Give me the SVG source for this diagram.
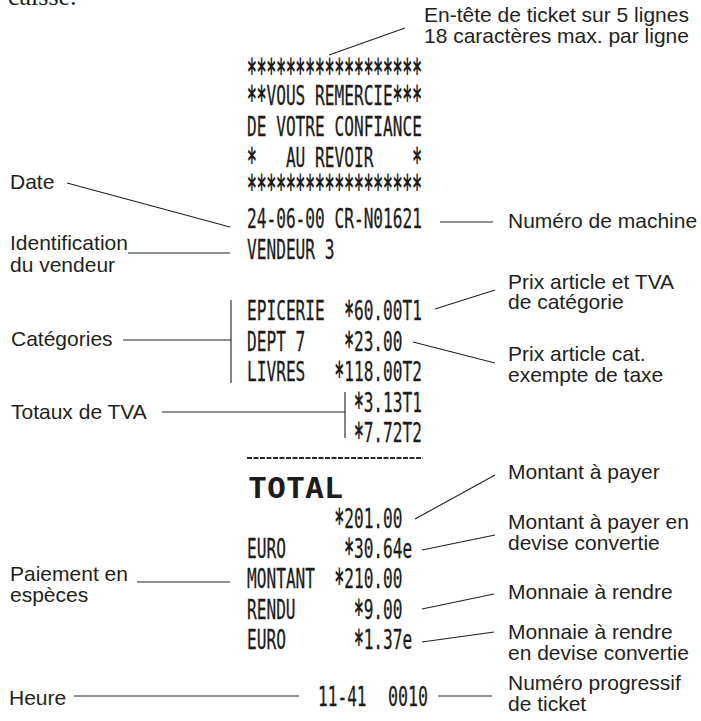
<svg xmlns="http://www.w3.org/2000/svg" width="701" height="721" viewBox="0 0 701 721">
<style>
.lb{font-family:"Liberation Sans",Arial,sans-serif;font-size:21px;fill:#231f20}
.r{font-family:"DejaVu Sans Mono",monospace;font-size:26px;fill:#1c1c1c;stroke:#1c1c1c;stroke-width:0.3}
.s{font-family:"DejaVu Sans Mono",monospace;font-size:38px;font-weight:bold;fill:#1c1c1c}
.b{font-family:"DejaVu Sans Mono",monospace;font-size:28px;font-weight:bold;fill:#1c1c1c}
.ln{stroke:#231f20;stroke-width:1.1;fill:none}
</style>
<rect width="701" height="721" fill="#fff"/>
<text x="8" y="5" style="font-family:'Liberation Serif',serif;font-size:26px;fill:#231f20">caisse.</text>

<g id="receipt">
<text class="s" x="247" y="85" textLength="174.96" lengthAdjust="spacingAndGlyphs">******************</text>
<text class="s" x="247" y="112" textLength="19.44" lengthAdjust="spacingAndGlyphs">**</text>
<text class="r" x="266.44" y="105" textLength="126.36" lengthAdjust="spacingAndGlyphs">VOUS REMERCIE</text>
<text class="s" x="392.8" y="112" textLength="29.16" lengthAdjust="spacingAndGlyphs">***</text>
<text class="r" x="247" y="136" textLength="174.96" lengthAdjust="spacingAndGlyphs">DE VOTRE CONFIANCE</text>
<text class="s" x="247" y="173.5" textLength="9.72" lengthAdjust="spacingAndGlyphs">*</text>
<text class="r" x="285.88" y="166.5" textLength="87.48" lengthAdjust="spacingAndGlyphs">AU REVOIR</text>
<text class="s" x="412.24" y="173.5" textLength="9.72" lengthAdjust="spacingAndGlyphs">*</text>
<text class="s" x="247" y="201" textLength="174.96" lengthAdjust="spacingAndGlyphs">******************</text>
<text class="r" x="247" y="228" textLength="174.96" lengthAdjust="spacingAndGlyphs">24-06-00 CR-N01621</text>
<text class="r" x="247" y="259" textLength="87.48" lengthAdjust="spacingAndGlyphs">VENDEUR 3</text>

<text class="r" x="247" y="320" textLength="77.76" lengthAdjust="spacingAndGlyphs">EPICERIE</text>
<text class="s" x="344.2" y="327" textLength="9.72" lengthAdjust="spacingAndGlyphs">*</text>
<text class="r" x="353.92" y="320" textLength="68.04" lengthAdjust="spacingAndGlyphs">60.00T1</text>
<text class="r" x="247" y="350.5" textLength="58.32" lengthAdjust="spacingAndGlyphs">DEPT 7</text>
<text class="s" x="344.2" y="357.5" textLength="9.72" lengthAdjust="spacingAndGlyphs">*</text>
<text class="r" x="353.92" y="350.5" textLength="48.6" lengthAdjust="spacingAndGlyphs">23.00</text>
<text class="r" x="247" y="381" textLength="58.32" lengthAdjust="spacingAndGlyphs">LIVRES</text>
<text class="s" x="334.48" y="388" textLength="9.72" lengthAdjust="spacingAndGlyphs">*</text>
<text class="r" x="344.2" y="381" textLength="77.76" lengthAdjust="spacingAndGlyphs">118.00T2</text>
<text class="s" x="353.92" y="418.5" textLength="9.72" lengthAdjust="spacingAndGlyphs">*</text>
<text class="r" x="363.64" y="411.5" textLength="58.32" lengthAdjust="spacingAndGlyphs">3.13T1</text>
<text class="s" x="353.92" y="449" textLength="9.72" lengthAdjust="spacingAndGlyphs">*</text>
<text class="r" x="363.64" y="442" textLength="58.32" lengthAdjust="spacingAndGlyphs">7.72T2</text>

<line x1="247" y1="458" x2="423" y2="458" stroke="#2a2a2a" stroke-width="2" stroke-dasharray="5 1.5"/>
<text class="b" x="248" y="498" textLength="95" lengthAdjust="spacingAndGlyphs">TOTAL</text>

<text class="s" x="334.48" y="534.5" textLength="9.72" lengthAdjust="spacingAndGlyphs">*</text>
<text class="r" x="344.2" y="527.5" textLength="58.32" lengthAdjust="spacingAndGlyphs">201.00</text>
<text class="r" x="247" y="557.5" textLength="38.88" lengthAdjust="spacingAndGlyphs">EURO</text>
<text class="s" x="344.2" y="564.5" textLength="9.72" lengthAdjust="spacingAndGlyphs">*</text>
<text class="r" x="353.92" y="557.5" textLength="58.32" lengthAdjust="spacingAndGlyphs">30.64e</text>
<text class="r" x="247" y="588" textLength="68.04" lengthAdjust="spacingAndGlyphs">MONTANT</text>
<text class="s" x="334.48" y="595" textLength="9.72" lengthAdjust="spacingAndGlyphs">*</text>
<text class="r" x="344.2" y="588" textLength="58.32" lengthAdjust="spacingAndGlyphs">210.00</text>
<text class="r" x="247" y="618.5" textLength="48.6" lengthAdjust="spacingAndGlyphs">RENDU</text>
<text class="s" x="353.92" y="625.5" textLength="9.72" lengthAdjust="spacingAndGlyphs">*</text>
<text class="r" x="363.64" y="618.5" textLength="38.88" lengthAdjust="spacingAndGlyphs">9.00</text>
<text class="r" x="247" y="648.5" textLength="38.88" lengthAdjust="spacingAndGlyphs">EURO</text>
<text class="s" x="353.92" y="655.5" textLength="9.72" lengthAdjust="spacingAndGlyphs">*</text>
<text class="r" x="363.64" y="648.5" textLength="48.6" lengthAdjust="spacingAndGlyphs">1.37e</text>
<text class="r" x="318" y="705.5" textLength="48.6" lengthAdjust="spacingAndGlyphs">11-41</text>
<text class="r" x="388" y="705.5" textLength="40" lengthAdjust="spacingAndGlyphs">0010</text>
</g>

<g id="lbl-entete"><text class="lb" x="424" y="22">En-tête de ticket sur 5 lignes</text><text class="lb" x="424" y="43">18 caractères max. par ligne</text></g>
<g id="lbl-date"><text class="lb" x="10" y="189">Date</text></g>
<g id="lbl-vendeur"><text class="lb" x="10" y="250">Identification</text><text class="lb" x="10" y="272">du vendeur</text></g>
<g id="lbl-categories"><text class="lb" x="11" y="346">Catégories</text></g>
<g id="lbl-tva"><text class="lb" x="11" y="419">Totaux de TVA</text></g>
<g id="lbl-paiement"><text class="lb" x="10" y="581">Paiement en</text><text class="lb" x="10" y="602">espèces</text></g>
<g id="lbl-heure"><text class="lb" x="9" y="705">Heure</text></g>
<g id="lbl-machine"><text class="lb" x="508" y="228">Numéro de machine</text></g>
<g id="lbl-prix-tva"><text class="lb" x="508" y="289">Prix article et TVA</text><text class="lb" x="508" y="309">de catégorie</text></g>
<g id="lbl-prix-exempt"><text class="lb" x="508" y="361">Prix article cat.</text><text class="lb" x="508" y="382">exempte de taxe</text></g>
<g id="lbl-montant"><text class="lb" x="508" y="479">Montant à payer</text></g>
<g id="lbl-montant-devise"><text class="lb" x="508" y="529">Montant à payer en</text><text class="lb" x="508" y="550">devise convertie</text></g>
<g id="lbl-monnaie"><text class="lb" x="508" y="599">Monnaie à rendre</text></g>
<g id="lbl-monnaie-devise"><text class="lb" x="508" y="639">Monnaie à rendre</text><text class="lb" x="508" y="660">en devise convertie</text></g>
<g id="lbl-numero"><text class="lb" x="508" y="690">Numéro progressif</text><text class="lb" x="508" y="711">de ticket</text></g>

<g id="connectors" class="ln">
<line x1="329" y1="55" x2="405" y2="28"/>
<line x1="67" y1="183" x2="230" y2="227"/>
<line x1="128" y1="253" x2="230" y2="253"/>
<line x1="123" y1="340" x2="231" y2="340"/>
<line x1="231" y1="300" x2="231" y2="383"/>
<line x1="162" y1="412" x2="345" y2="412"/>
<line x1="345" y1="392" x2="345" y2="438"/>
<line x1="137" y1="582" x2="230" y2="582"/>
<line x1="74" y1="696" x2="299" y2="696"/>
<line x1="440" y1="222" x2="493" y2="222"/>
<line x1="435" y1="309" x2="495" y2="290"/>
<line x1="413" y1="342" x2="495" y2="363"/>
<line x1="415" y1="519" x2="495" y2="475"/>
<line x1="422" y1="550" x2="495" y2="535"/>
<line x1="422" y1="609" x2="494" y2="594"/>
<line x1="422" y1="642" x2="494" y2="632"/>
<line x1="438" y1="696" x2="492" y2="696"/>
</g>
</svg>
